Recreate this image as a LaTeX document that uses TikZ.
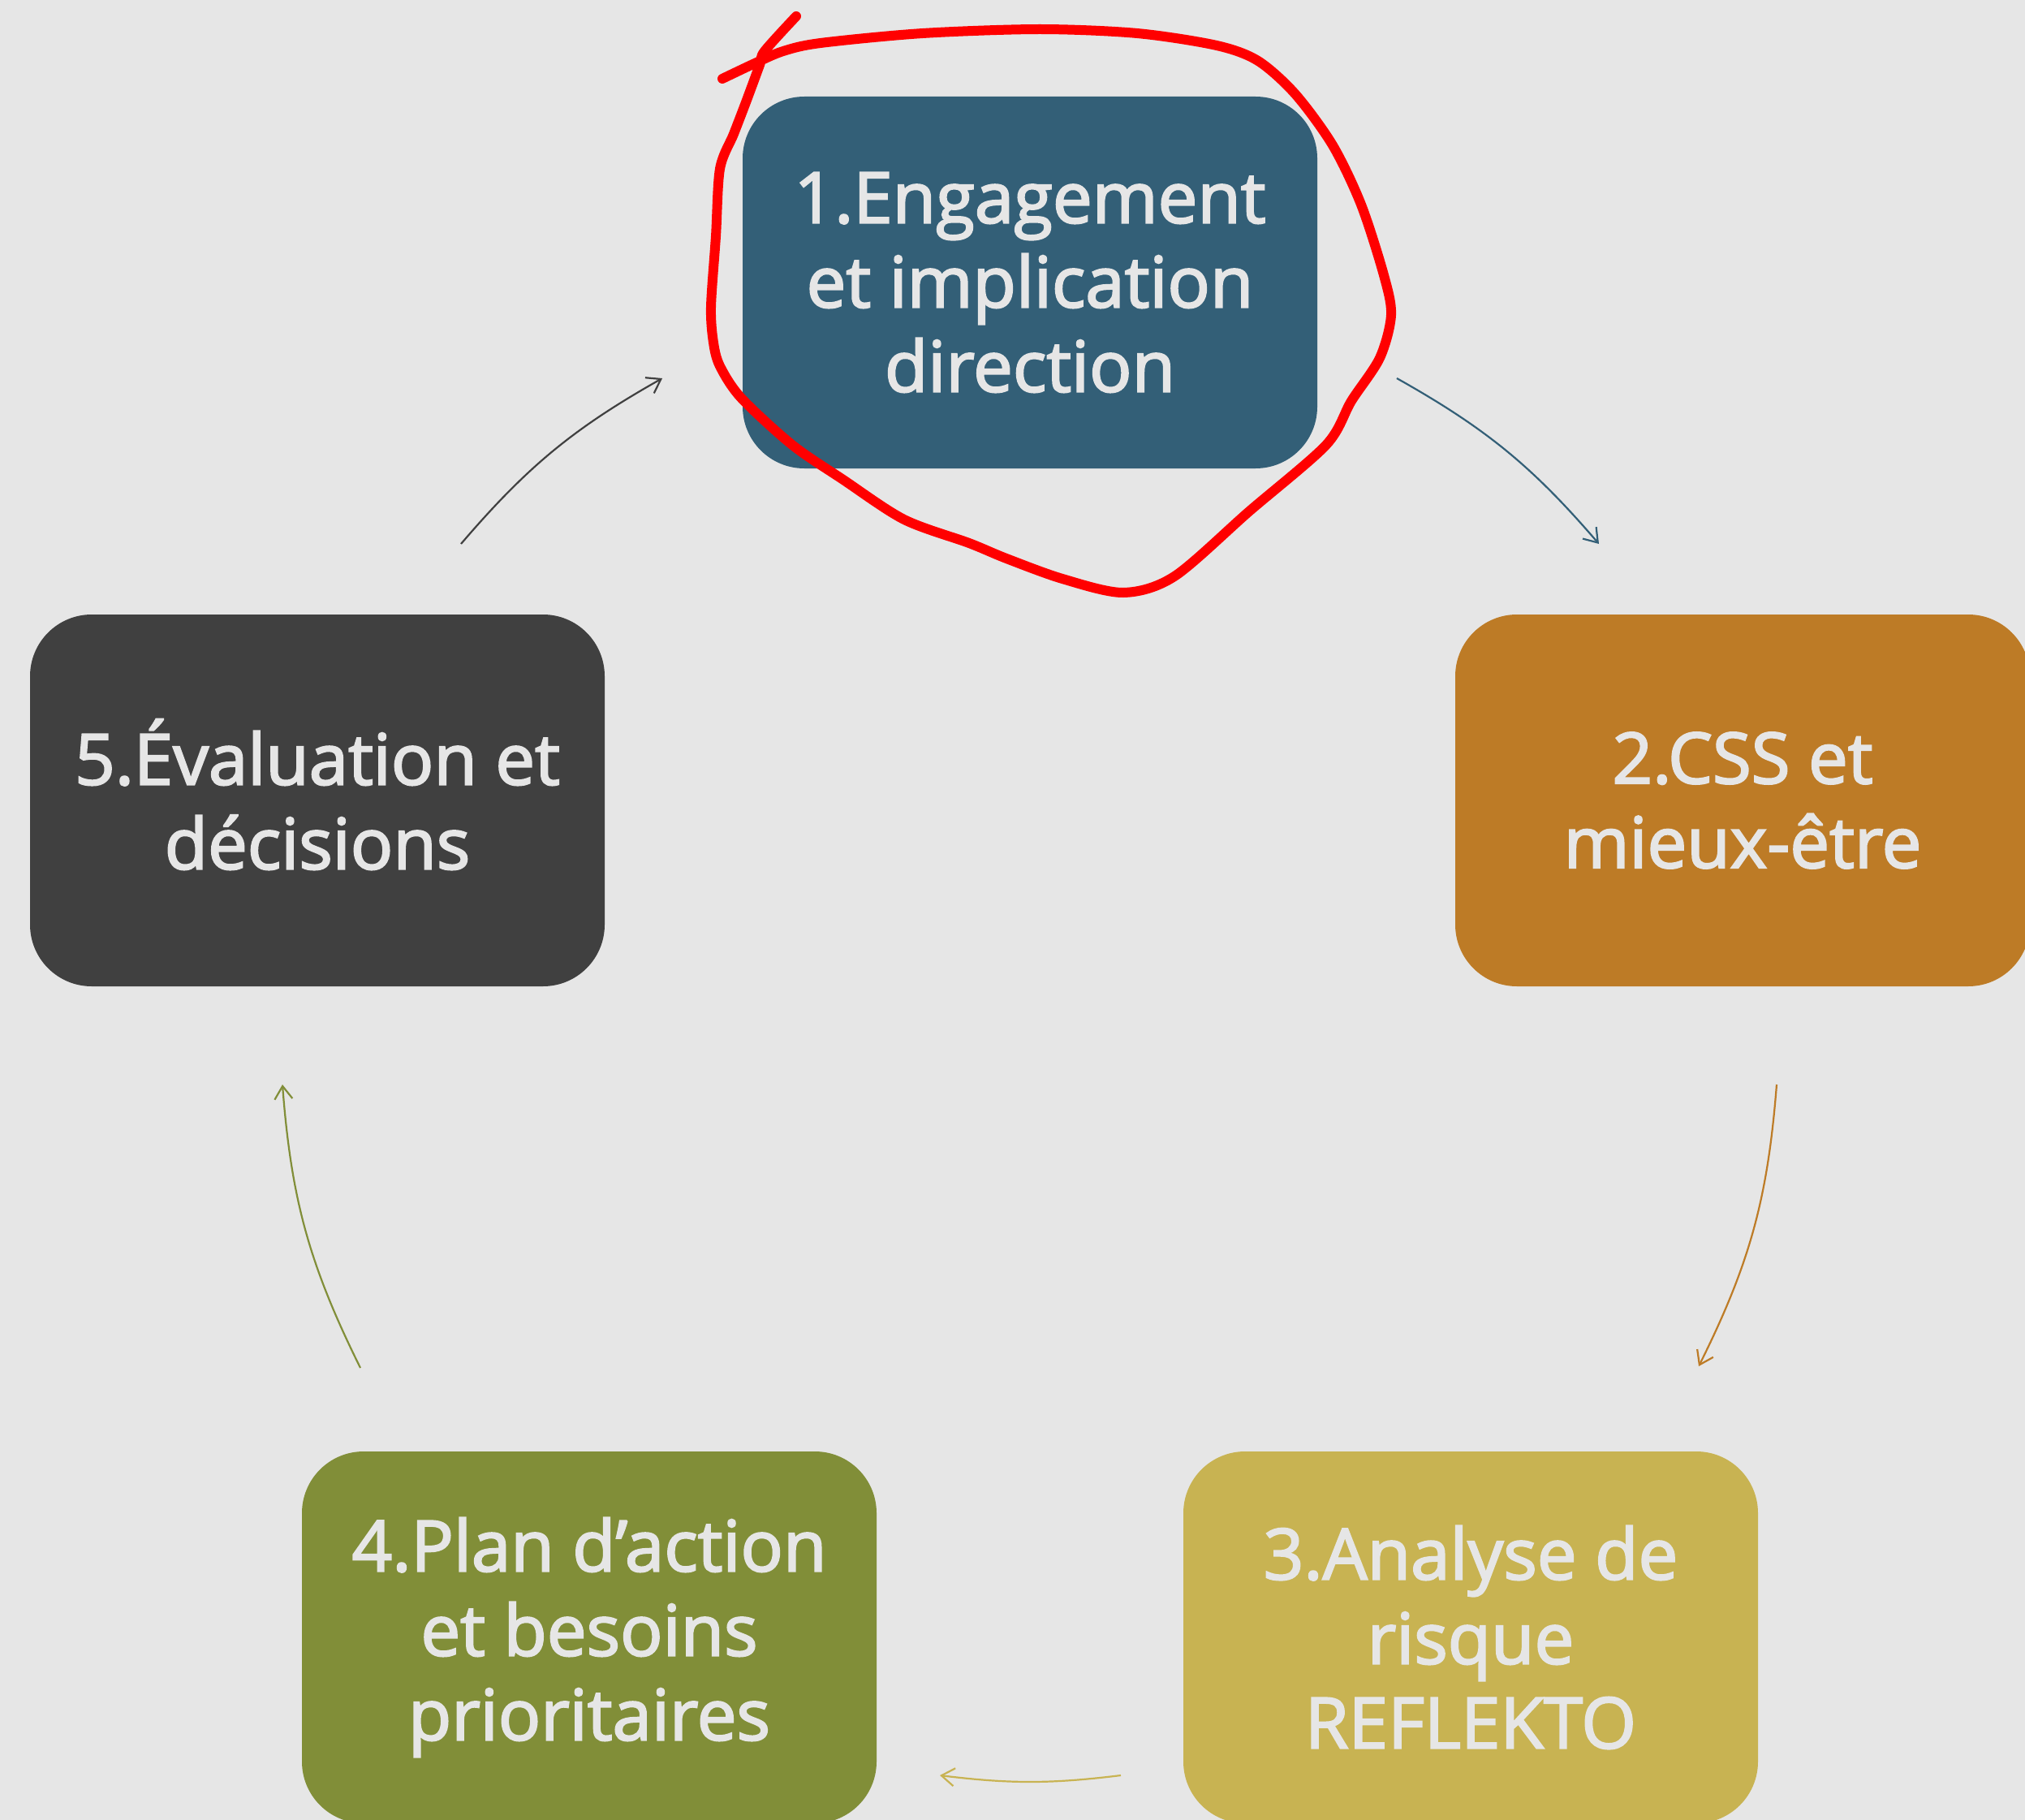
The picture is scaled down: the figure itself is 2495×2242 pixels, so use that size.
\documentclass[tikz,border=0pt]{standalone}
\usepackage{fontspec}
\newfontfamily\boxfont{Open Sans}[FakeBold=2.5]
\usetikzlibrary{arrows.meta}
\definecolor{bg}{HTML}{E6E6E6}
\definecolor{c1}{HTML}{335F77}
\definecolor{c2}{HTML}{BD7B26}
\definecolor{c3}{HTML}{C8B352}
\definecolor{c4}{HTML}{818E38}
\definecolor{c5}{HTML}{404040}
\definecolor{txt}{HTML}{E6E6E6}
\begin{document}
\begin{tikzpicture}[x=0.5pt,y=-0.5pt,
  stepbox/.style={rectangle, rounded corners=38pt, minimum width=354pt, minimum height=229pt,
    inner sep=0pt, text=txt, align=center, font=\boxfont\fontsize{43.5}{52}\selectfont},
  flow/.style={line width=1.1pt, -{Straight Barb[length=8pt,width=11pt]}},
  annot/.style={red, line width=6pt, line cap=round, line join=round}]
\useasboundingbox (0,0) rectangle (2495,2242);
\clip (0,0) rectangle (2495,2242);
\fill[bg] (0,0) rectangle (2495,2242);

\node[stepbox, fill=c1] (n1) at (1269,348) {1.Engagement\\et implication\\direction};
\node[stepbox, fill=c2] (n2) at (2147,986) {2.CSS et\\mieux-être};
\node[stepbox, fill=c3] (n3) at (1812,2017) {3.Analyse de\\risque\\REFLEKTO};
\node[stepbox, fill=c4] (n4) at (726,2017) {4.Plan d’action\\et besoins\\prioritaires};
\node[stepbox, fill=c5] (n5) at (391,986) {5.\smash{É}valuation et\\décisions};

\coordinate (a12s) at (1721,466);  \coordinate (a12e) at (1970,670);
\coordinate (a23s) at (2189,1336); \coordinate (a23e) at (2093,1683);
\coordinate (a34s) at (1381,2187); \coordinate (a34e) at (1158,2187);
\coordinate (a45s) at (444,1685);  \coordinate (a45e) at (348,1336);
\coordinate (a51s) at (568,670);   \coordinate (a51e) at (816,466);

\draw[flow, c1] (a12s) to[bend left=10] (a12e);
\draw[flow, c2] (a23s) to[bend left=11] (a23e);
\draw[flow, c3] (a34s) to[bend left=7] (a34e);
\draw[flow, c4] (a45s) to[bend left=11] (a45e);
\draw[flow, c5] (a51s) to[bend left=10] (a51e);

\draw[annot] plot[smooth, tension=0.5] coordinates {
 (981,20) (942,63) (936,80) (919,126) (904,165) (887,208) (882,291) (876,378)
 (879,422) (887,451) (913,490) (976,548) (1039,591) (1114,640) (1194,669)
 (1240,688) (1309,713) (1384,730) (1447,710) (1539,630) (1634,548) (1665,494)
 (1700,441) (1714,388) (1705,339) (1677,252) (1642,179) (1596,116) (1550,75)
 (1499,56) (1401,41) (1281,36) (1137,41) (1011,53) (965,63) (930,78) (890,97)};
\end{tikzpicture}
\end{document}
